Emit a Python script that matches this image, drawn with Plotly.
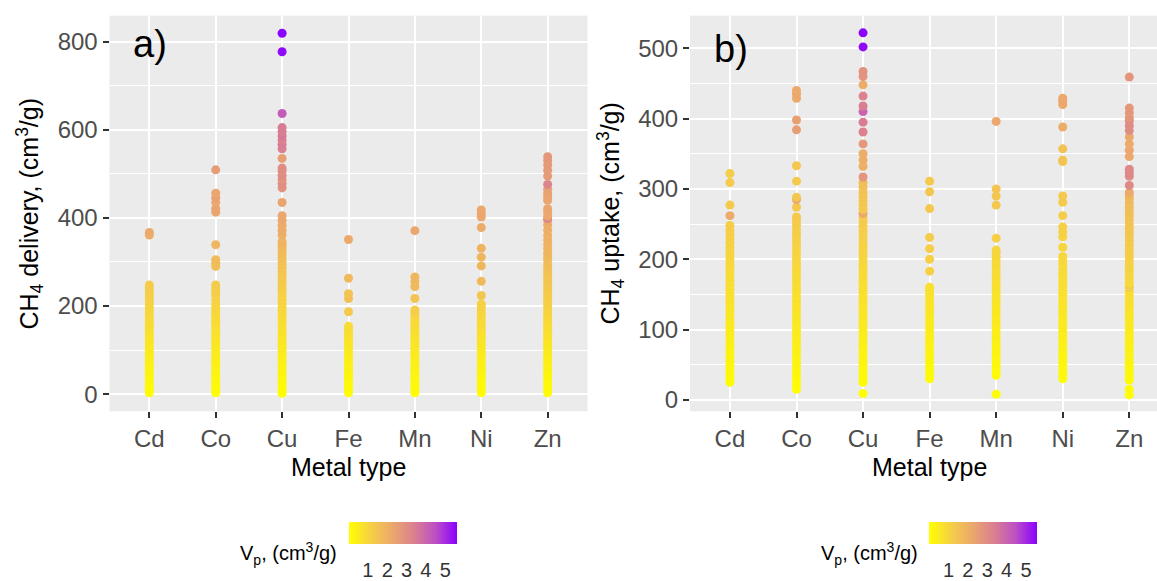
import plotly.graph_objects as go

metals = ["Cd", "Co", "Cu", "Fe", "Mn", "Ni", "Zn"]

# ---- Panel a: CH4 delivery (cm3/g) and pore volume Vp ----
cd_delivery = [3, 9, 15, 22, 28, 35, 41, 48, 55, 61, 68, 75, 82, 88, 95, 102, 108, 115, 122, 130,
               137, 144, 151, 158, 165, 172, 180, 188, 196, 204, 212, 220, 228, 236, 243, 248, 361, 367]
cd_delivery_vp = [0.05, 0.08, 0.10, 0.13, 0.15, 0.18, 0.20, 0.23, 0.26, 0.29, 0.32, 0.35, 0.38, 0.42, 0.45,
                  0.48, 0.52, 0.55, 0.58, 0.62, 0.66, 0.70, 0.74, 0.78, 0.82, 0.86, 0.90, 0.94, 0.98, 1.02,
                  1.06, 1.10, 1.14, 1.18, 1.22, 1.26, 2.10, 2.20]
co_delivery = [3, 9, 16, 22, 29, 36, 42, 49, 56, 63, 70, 77, 84, 91, 98, 105, 112, 119, 126, 133,
               140, 147, 154, 161, 168, 175, 182, 189, 196, 204, 214, 224, 232, 240, 248, 290, 297, 305, 339, 413,
               421, 435, 446, 456, 509]
co_delivery_vp = [0.05, 0.08, 0.11, 0.13, 0.16, 0.19, 0.22, 0.25, 0.28, 0.31, 0.34, 0.37, 0.41, 0.44, 0.47,
                  0.51, 0.54, 0.57, 0.61, 0.64, 0.68, 0.72, 0.75, 0.79, 0.83, 0.86, 0.90, 0.94, 0.98, 1.02,
                  1.08, 1.12, 1.16, 1.20, 1.25, 1.60, 1.65, 1.70, 1.85, 2.30, 2.35, 2.25, 2.40, 2.30, 2.55]
cu_delivery = [2, 9, 16, 23, 30, 37, 44, 51, 58, 65, 72, 79, 86, 93, 100, 107, 114, 121, 128, 135,
               142, 150, 158, 166, 174, 182, 190, 198, 206, 214, 222, 230, 238, 246, 254, 262, 270, 278, 286, 294,
               302, 310, 318, 326, 334, 341, 346, 361, 372, 383, 394, 405, 435, 468, 478, 487, 497, 507, 513, 535,
               557, 567, 576, 586, 596, 605, 637, 777, 819]
cu_delivery_vp = [0.04, 0.07, 0.10, 0.13, 0.16, 0.19, 0.22, 0.25, 0.28, 0.31, 0.34, 0.37, 0.40, 0.43, 0.47,
                  0.50, 0.53, 0.57, 0.60, 0.64, 0.68, 0.72, 0.76, 0.80, 0.84, 0.88, 0.92, 0.96, 1.00, 1.04,
                  1.08, 1.12, 1.16, 1.20, 1.25, 1.30, 1.35, 1.40, 1.45, 1.50, 1.55, 1.60, 1.65, 1.70, 1.75,
                  1.80, 1.90, 2.00, 2.10, 2.15, 2.20, 2.25, 2.35, 2.85, 2.95, 2.80, 3.00, 2.90, 3.05, 2.50,
                  3.35, 3.45, 3.30, 3.50, 3.40, 3.45, 4.20, 5.45, 5.55]
fe_delivery = [3, 10, 17, 24, 31, 38, 45, 52, 59, 66, 73, 80, 87, 94, 101, 108, 115, 122, 128, 134,
               140, 147, 154, 187, 217, 228, 263, 351]
fe_delivery_vp = [0.05, 0.08, 0.11, 0.14, 0.17, 0.20, 0.23, 0.26, 0.30, 0.33, 0.36, 0.40, 0.43, 0.47, 0.50,
                  0.54, 0.58, 0.62, 0.66, 0.70, 0.75, 0.80, 0.85, 1.30, 1.55, 1.50, 1.75, 2.20]
mn_delivery = [3, 10, 17, 24, 31, 38, 45, 52, 59, 66, 73, 80, 87, 94, 101, 108, 115, 122, 129, 136,
               143, 150, 157, 164, 172, 180, 186, 191, 217, 244, 255, 266, 371]
mn_delivery_vp = [0.05, 0.08, 0.11, 0.14, 0.17, 0.20, 0.23, 0.26, 0.30, 0.33, 0.36, 0.40, 0.43, 0.47, 0.50,
                  0.54, 0.58, 0.62, 0.66, 0.70, 0.74, 0.78, 0.82, 0.86, 0.90, 1.05, 1.15, 1.20, 1.45, 1.70,
                  1.75, 1.80, 2.25]
ni_delivery = [3, 10, 17, 24, 31, 38, 45, 52, 59, 66, 73, 80, 87, 94, 101, 108, 115, 122, 129, 136,
               143, 150, 157, 164, 171, 178, 185, 192, 199, 205, 224, 256, 291, 311, 331, 378, 402, 410, 418]
ni_delivery_vp = [0.05, 0.08, 0.11, 0.14, 0.17, 0.20, 0.23, 0.26, 0.30, 0.33, 0.36, 0.40, 0.43, 0.47, 0.50,
                  0.54, 0.58, 0.62, 0.66, 0.70, 0.74, 0.78, 0.82, 0.86, 0.90, 0.94, 0.98, 1.02, 1.06, 1.10,
                  1.40, 1.75, 1.80, 1.85, 1.90, 2.15, 2.20, 2.30, 2.25]
zn_delivery = [3, 10, 17, 24, 31, 38, 45, 52, 59, 66, 73, 80, 87, 94, 101, 108, 115, 122, 129, 136,
               143, 150, 157, 164, 171, 178, 185, 192, 199, 206, 213, 220, 227, 234, 241, 248, 255, 262, 270, 278,
               286, 294, 304, 312, 320, 330, 340, 350, 360, 372, 384, 394, 398, 405, 414, 421, 440, 448, 456, 465,
               476, 495, 508, 520, 530, 539]
zn_delivery_vp = [0.05, 0.08, 0.11, 0.14, 0.17, 0.20, 0.23, 0.26, 0.30, 0.33, 0.36, 0.40, 0.43, 0.47, 0.50,
                  0.54, 0.58, 0.62, 0.66, 0.70, 0.74, 0.78, 0.82, 0.86, 0.90, 0.94, 0.98, 1.02, 1.06, 1.10,
                  1.14, 1.18, 1.22, 1.26, 1.30, 1.34, 1.38, 1.42, 1.46, 1.50, 1.55, 1.60, 1.70, 1.75, 1.80,
                  1.85, 1.90, 1.95, 2.00, 2.05, 2.10, 2.15, 3.10, 2.20, 2.25, 2.30, 2.30, 2.35, 2.35, 2.40,
                  3.20, 2.55, 2.60, 2.65, 2.60, 2.70]

# ---- Panel b: CH4 uptake (cm3/g) and pore volume Vp ----
cd_uptake = [25, 31, 37, 43, 49, 55, 61, 67, 73, 79, 85, 91, 97, 103, 109, 115, 121, 127, 133, 139,
             145, 151, 157, 163, 169, 175, 181, 187, 193, 199, 205, 211, 217, 223, 229, 235, 241, 248, 262, 277,
             309, 322]
cd_uptake_vp = [0.08, 0.11, 0.14, 0.17, 0.20, 0.23, 0.26, 0.29, 0.32, 0.35, 0.38, 0.41, 0.44, 0.47, 0.50,
                0.53, 0.56, 0.59, 0.62, 0.65, 0.68, 0.71, 0.74, 0.77, 0.80, 0.83, 0.86, 0.89, 0.92, 0.95,
                0.98, 1.01, 1.04, 1.07, 1.10, 1.13, 1.16, 1.20, 2.15, 1.30, 1.25, 1.20]
co_uptake = [15, 21, 27, 33, 39, 45, 51, 57, 63, 69, 75, 81, 87, 93, 99, 105, 111, 117, 123, 129,
             135, 141, 147, 153, 159, 165, 171, 177, 183, 189, 195, 201, 207, 213, 219, 225, 231, 237, 243, 249,
             255, 260, 274, 285, 288, 311, 333, 384, 398, 429, 435, 440]
co_uptake_vp = [0.06, 0.09, 0.12, 0.15, 0.18, 0.21, 0.24, 0.27, 0.30, 0.33, 0.36, 0.39, 0.42, 0.45, 0.48,
                0.51, 0.54, 0.57, 0.60, 0.63, 0.66, 0.69, 0.72, 0.75, 0.78, 0.81, 0.84, 0.87, 0.90, 0.93,
                0.96, 0.99, 1.02, 1.05, 1.08, 1.11, 1.14, 1.17, 1.20, 1.23, 1.26, 1.30, 1.35, 2.30, 1.40,
                1.30, 1.35, 2.50, 2.45, 2.20, 2.25, 2.20]
cu_uptake = [9, 25, 31, 37, 43, 49, 55, 61, 67, 73, 79, 85, 91, 97, 103, 109, 115, 121, 127, 133,
             139, 145, 151, 157, 163, 169, 175, 181, 187, 193, 199, 205, 211, 217, 223, 229, 235, 241, 247, 253,
             259, 265, 271, 277, 283, 289, 295, 302, 309, 317, 332, 341, 350, 364, 381, 395, 410, 418, 432, 448,
             460, 467, 502, 522]
cu_uptake_vp = [0.05, 0.08, 0.11, 0.14, 0.17, 0.20, 0.23, 0.26, 0.29, 0.32, 0.35, 0.38, 0.41, 0.44, 0.47,
                0.50, 0.53, 0.56, 0.59, 0.62, 0.65, 0.68, 0.71, 0.74, 0.77, 0.80, 0.83, 0.86, 0.89, 0.92,
                0.95, 0.98, 1.01, 1.04, 1.07, 1.10, 1.13, 1.16, 1.19, 1.22, 1.25, 2.20, 1.31, 1.34, 1.40,
                1.45, 1.50, 1.55, 1.65, 2.75, 2.00, 2.05, 2.10, 2.70, 3.30, 3.40, 4.00, 3.40, 3.30, 2.10,
                2.80, 2.85, 5.45, 5.55]
fe_uptake = [30, 36, 42, 48, 54, 60, 66, 72, 78, 84, 90, 96, 102, 108, 114, 120, 126, 132, 138, 144,
             150, 156, 160, 183, 200, 215, 231, 272, 296, 311]
fe_uptake_vp = [0.08, 0.11, 0.14, 0.17, 0.20, 0.23, 0.26, 0.29, 0.32, 0.35, 0.38, 0.41, 0.44, 0.47, 0.50,
                0.53, 0.56, 0.59, 0.62, 0.65, 0.68, 0.71, 0.74, 1.10, 1.15, 1.20, 1.25, 1.35, 1.40, 1.30]
mn_uptake = [8, 35, 41, 47, 53, 59, 65, 71, 77, 83, 89, 95, 101, 107, 113, 119, 125, 131, 137, 143,
             149, 155, 161, 167, 173, 179, 185, 191, 197, 203, 209, 213, 230, 277, 290, 300, 396]
mn_uptake_vp = [0.05, 0.10, 0.13, 0.16, 0.19, 0.22, 0.25, 0.28, 0.31, 0.34, 0.37, 0.40, 0.43, 0.46, 0.49,
                0.52, 0.55, 0.58, 0.61, 0.64, 0.67, 0.70, 0.73, 0.76, 0.79, 0.82, 0.85, 0.88, 0.91, 0.94,
                0.97, 1.00, 1.15, 1.35, 1.40, 1.45, 2.25]
ni_uptake = [30, 36, 42, 48, 54, 60, 66, 72, 78, 84, 90, 96, 102, 108, 114, 120, 126, 132, 138, 144,
             150, 156, 162, 168, 174, 180, 186, 192, 198, 204, 217, 232, 239, 246, 262, 281, 290, 339, 341, 357,
             388, 420, 425, 429]
ni_uptake_vp = [0.08, 0.11, 0.14, 0.17, 0.20, 0.23, 0.26, 0.29, 0.32, 0.35, 0.38, 0.41, 0.44, 0.47, 0.50,
                0.53, 0.56, 0.59, 0.62, 0.65, 0.68, 0.71, 0.74, 0.77, 0.80, 0.83, 0.86, 0.89, 0.92, 0.95,
                1.00, 1.05, 1.10, 1.15, 1.20, 1.25, 1.30, 1.40, 1.45, 1.50, 2.10, 2.20, 2.25, 2.20]
zn_uptake = [7, 15, 28, 34, 40, 46, 52, 58, 64, 70, 76, 82, 88, 94, 100, 106, 112, 118, 124, 130,
             136, 142, 148, 154, 160, 166, 172, 178, 184, 190, 196, 202, 208, 214, 220, 226, 232, 238, 244, 250,
             256, 262, 268, 274, 280, 286, 290, 295, 305, 318, 323, 328, 346, 355, 364, 374, 383, 390, 397, 401,
             408, 415, 459]
zn_uptake_vp = [0.05, 0.07, 0.10, 0.13, 0.16, 0.19, 0.22, 0.25, 0.28, 0.31, 0.34, 0.37, 0.40, 0.43, 0.46,
                0.50, 0.54, 0.58, 0.62, 0.66, 0.70, 0.74, 0.78, 0.82, 1.20, 0.90, 0.94, 0.98, 1.02, 1.06,
                1.10, 1.14, 1.18, 1.22, 1.26, 1.30, 1.34, 1.38, 1.42, 1.46, 1.50, 1.55, 1.60, 1.65, 1.70,
                1.75, 1.80, 2.20, 3.10, 3.05, 3.15, 3.10, 2.20, 2.25, 2.15, 2.20, 2.95, 3.00, 3.05, 2.75,
                2.70, 2.70, 2.75]

delivery_series = [cd_delivery, co_delivery, cu_delivery, fe_delivery, mn_delivery, ni_delivery, zn_delivery]
delivery_vp = [cd_delivery_vp, co_delivery_vp, cu_delivery_vp, fe_delivery_vp, mn_delivery_vp, ni_delivery_vp, zn_delivery_vp]
uptake_series = [cd_uptake, co_uptake, cu_uptake, fe_uptake, mn_uptake, ni_uptake, zn_uptake]
uptake_vp = [cd_uptake_vp, co_uptake_vp, cu_uptake_vp, fe_uptake_vp, mn_uptake_vp, ni_uptake_vp, zn_uptake_vp]

vp_colorscale = [
    [0.0, "#FFFF00"],
    [0.2, "#F6D046"],
    [0.4, "#EBA86C"],
    [0.6, "#DA8090"],
    [0.8, "#BD50C4"],
    [1.0, "#8A00FF"],
]

W, H = 1157, 581
FONT = "Liberation Sans, Arial, sans-serif"

def px_x(p):
    return p / W

def px_y(p):
    return (H - p) / H

fig = go.Figure()

for metal, vals, vps in zip(metals, delivery_series, delivery_vp):
    assert len(vals) == len(vps), metal
    fig.add_trace(go.Scatter(
        x=[metal] * len(vals), y=vals, mode="markers",
        marker=dict(size=9, color=vps, coloraxis="coloraxis", line=dict(width=0)),
        xaxis="x", yaxis="y", showlegend=False, hoverinfo="skip"))

for metal, vals, vps in zip(metals, uptake_series, uptake_vp):
    assert len(vals) == len(vps), metal
    fig.add_trace(go.Scatter(
        x=[metal] * len(vals), y=vals, mode="markers",
        marker=dict(size=9, color=vps, coloraxis="coloraxis2", line=dict(width=0)),
        xaxis="x2", yaxis="y2", showlegend=False, hoverinfo="skip"))

y_dom = [px_y(420), px_y(16)]
tickfont = dict(family=FONT, size=24, color="#4D4D4D")

common_x = dict(
    type="category", categoryorder="array", categoryarray=metals,
    showgrid=True, gridcolor="white", gridwidth=2.2, zeroline=False,
    ticks="outside", ticklen=6, tickwidth=2, tickcolor="#333333",
    tickfont=tickfont, showline=False, fixedrange=True,
)
common_y = dict(
    showgrid=True, gridcolor="white", gridwidth=2.2, zeroline=False,
    ticks="outside", ticklen=6, tickwidth=2, tickcolor="#333333",
    tickfont=tickfont, showline=False,
)

cbar_common = dict(
    orientation="h", lenmode="pixels", len=108, thickness=22,
    xanchor="center", yanchor="top", y=px_y(533),
    xpad=0, ypad=0, outlinewidth=0,
    tickvals=[1, 2, 3, 4, 5], ticks="outside", ticklen=9, tickcolor="rgba(0,0,0,0)", tickwidth=1,
    tickfont=dict(family=FONT, size=20, color="#333333"),
)

fig.update_layout(
    width=W, height=H, autosize=False,
    margin=dict(l=0, r=0, t=0, b=0),
    paper_bgcolor="white", plot_bgcolor="#EBEBEB",
    font=dict(family=FONT),
    xaxis=dict(common_x, domain=[px_x(109.5), px_x(587.5)], range=[-0.6, 6.6], anchor="y"),
    yaxis=dict(common_y, domain=y_dom, range=[-38.9, 858.9], tickvals=[0, 200, 400, 600, 800],
               minor=dict(tickvals=[100, 300, 500, 700], showgrid=True, gridcolor="white", gridwidth=1.1),
               anchor="x"),
    xaxis2=dict(common_x, domain=[px_x(690), 1.0], range=[-0.6, 6.416], anchor="y2"),
    yaxis2=dict(common_y, domain=y_dom, range=[-16.3, 546.4], tickvals=[0, 100, 200, 300, 400, 500],
                minor=dict(tickvals=[50, 150, 250, 350, 450], showgrid=True, gridcolor="white", gridwidth=1.1),
                anchor="x2"),
    coloraxis=dict(colorscale=vp_colorscale, cmin=0, cmax=5.58,
                   colorbar=dict(cbar_common, x=px_x(402.5))),
    coloraxis2=dict(colorscale=vp_colorscale, cmin=0, cmax=5.58,
                    colorbar=dict(cbar_common, x=px_x(983.2))),
)

ann = []
title_font = dict(family=FONT, size=25, color="black")
ann.append(dict(text="a)", x=px_x(150), y=px_y(45), xref="paper", yref="paper",
                showarrow=False, xanchor="center", yanchor="middle",
                font=dict(family=FONT, size=38, color="black")))
ann.append(dict(text="b)", x=px_x(731), y=px_y(50), xref="paper", yref="paper",
                showarrow=False, xanchor="center", yanchor="middle",
                font=dict(family=FONT, size=38, color="black")))
ann.append(dict(text="CH<sub>4</sub> delivery, (cm<sup>3</sup>/g)", x=px_x(30), y=px_y(218),
                xref="paper", yref="paper", showarrow=False, textangle=-90,
                xanchor="center", yanchor="middle", font=title_font))
ann.append(dict(text="CH<sub>4</sub> uptake, (cm<sup>3</sup>/g)", x=px_x(611), y=px_y(218),
                xref="paper", yref="paper", showarrow=False, textangle=-90,
                xanchor="center", yanchor="middle", font=title_font))
ann.append(dict(text="Metal type", x=px_x(348.5), y=px_y(477), xref="paper", yref="paper",
                showarrow=False, xanchor="center", yanchor="middle", font=title_font))
ann.append(dict(text="Metal type", x=px_x(929), y=px_y(477), xref="paper", yref="paper",
                showarrow=False, xanchor="center", yanchor="middle", font=title_font))
cb_title_font = dict(family=FONT, size=20, color="black")
ann.append(dict(text="V<sub>p</sub>, (cm<sup>3</sup>/g)", x=px_x(288), y=px_y(565),
                xref="paper", yref="paper", showarrow=False, xanchor="center", yanchor="middle",
                font=cb_title_font))
ann.append(dict(text="V<sub>p</sub>, (cm<sup>3</sup>/g)", x=px_x(869), y=px_y(565),
                xref="paper", yref="paper", showarrow=False, xanchor="center", yanchor="middle",
                font=cb_title_font))
fig.update_layout(annotations=ann)

fig.write_html("out.html")
